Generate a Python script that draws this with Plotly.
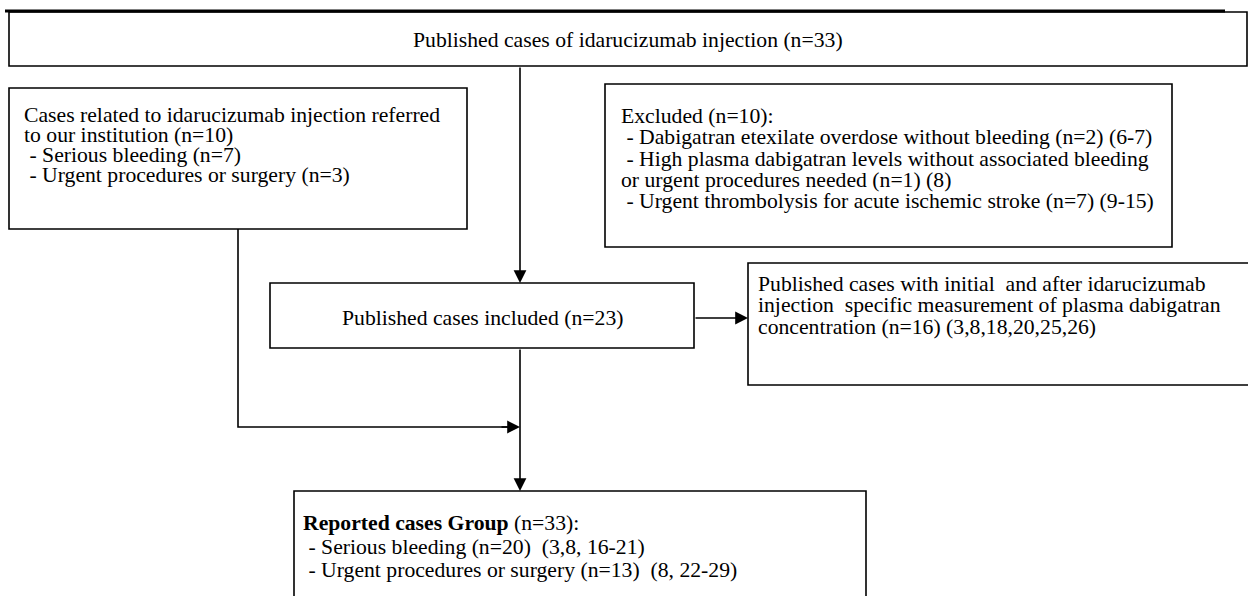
import plotly.graph_objects as go

# ---- text content (data) ----
top_lines = ["Published cases of idarucizumab injection (n=33)"]
referred_lines = [
    "Cases related to idarucizumab injection referred",
    "to our institution (n=10)",
    "\u00a0- Serious bleeding (n=7)",
    "\u00a0- Urgent procedures or surgery (n=3)",
]
excluded_lines = [
    "Excluded (n=10):",
    "\u00a0- Dabigatran etexilate overdose without bleeding (n=2) (6-7)",
    "\u00a0- High plasma dabigatran levels without associated bleeding",
    "or urgent procedures needed (n=1) (8)",
    "\u00a0- Urgent thrombolysis for acute ischemic stroke (n=7) (9-15)",
]
included_lines = ["Published cases included (n=23)"]
measured_lines = [
    "Published cases with initial \u00a0and after idarucizumab",
    "injection \u00a0specific measurement of plasma dabigatran",
    "concentration (n=16) (3,8,18,20,25,26)",
]
reported_lines = [
    "<b>Reported cases Group</b> (n=33):",
    "\u00a0- Serious bleeding (n=20) \u00a0(3,8, 16-21)",
    "\u00a0- Urgent procedures or surgery (n=13) \u00a0(8, 22-29)",
]

# ---- layout (pixel space) ----
W, H = 1248, 596
FONT = "Liberation Serif, Times New Roman, serif"
FS = 21.7
LW = 1.6

boxes = {
    "top": (9, 12, 1247, 66),
    "referred": (9, 88, 467, 229),
    "excluded": (605, 84, 1172, 247),
    "included": (270, 283, 694, 348),
    "measured": (748, 263, 1260, 385),
    "reported": (294, 491, 866, 610),
}

text_blocks = [
    # lines, x, first y, step, anchor
    (top_lines, 628, 40, 0, "center"),
    (referred_lines, 22, 115, 20.0, "left"),
    (excluded_lines, 619, 116, 21.3, "left"),
    (included_lines, 482, 318, 0, "center"),
    (measured_lines, 756, 284, 21.3, "left"),
    (reported_lines, 301, 523, 23.5, "left"),
]

shapes = []
for (x0, y0, x1, y1) in boxes.values():
    shapes.append(dict(type="rect", xref="x", yref="y", x0=x0, y0=y0, x1=x1, y1=y1,
                       line=dict(color="black", width=LW), fillcolor="rgba(0,0,0,0)"))
# thick rule at the top
shapes.append(dict(type="line", xref="x", yref="y", x0=5, y0=11, x1=1225, y1=11,
                   line=dict(color="black", width=3.2)))
# connector from left box down and across
shapes.append(dict(type="path", xref="x", yref="y",
                   path="M 238 229 L 238 427 L 510 427",
                   line=dict(color="black", width=LW)))

annotations = []
for lines, x, y0, step, anchor in text_blocks:
    for i, t in enumerate(lines):
        annotations.append(dict(x=x, y=y0 + i * step, xref="x", yref="y", text=t,
                                showarrow=False, xanchor=anchor, yanchor="middle",
                                align=anchor,
                                font=dict(family=FONT, size=FS, color="black")))

arrows = [
    # (tail x, tail y, head x, head y)
    (520, 66, 520, 283),
    (694, 318, 748, 318),
    (500, 427, 520, 427),
    (520, 348, 520, 491),
]
for ax, ay, x, y in arrows:
    annotations.append(dict(x=x, y=y, ax=ax, ay=ay, xref="x", yref="y", axref="x", ayref="y",
                            text="", showarrow=True, arrowhead=2, arrowsize=1.6,
                            arrowwidth=LW, arrowcolor="black", standoff=0, startstandoff=0))

fig = go.Figure()
fig.update_layout(
    width=W, height=H,
    margin=dict(l=0, r=0, t=0, b=0),
    paper_bgcolor="white", plot_bgcolor="white",
    xaxis=dict(range=[0, W], visible=False, fixedrange=True),
    yaxis=dict(range=[H, 0], visible=False, fixedrange=True),
    shapes=shapes, annotations=annotations, showlegend=False,
)
fig.write_html("out.html", config={"displayModeBar": False},
               post_script="document.body.style.margin='0';document.body.style.overflow='hidden';")
